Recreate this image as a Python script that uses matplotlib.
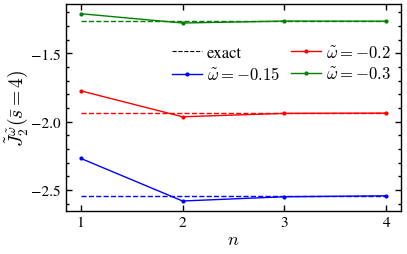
import numpy as np
import matplotlib
matplotlib.use('Agg')
import matplotlib.pyplot as plt
from matplotlib.ticker import MultipleLocator

plt.rcParams['font.family'] = 'STIXGeneral'
plt.rcParams['mathtext.fontset'] = 'cm'

# truncation order
n = [1, 2, 3, 4]

# omega values, approximations and exact results
omega_labels = ['-0.15', '-0.2', '-0.3']
J_015 = [-2.268, -2.580, -2.549, -2.542]
J_02 = [-1.774, -1.964, -1.939, -1.937]
J_03 = [-1.210, -1.278, -1.264, -1.265]
exact_015 = -2.542
exact_02 = -1.937
exact_03 = -1.2615

fig = plt.figure(figsize=(4.07, 2.55), dpi=100)
ax = fig.add_axes([0.1614, 0.1698, 0.8231, 0.8106])

# exact lines (dashed)
ax.plot(n, [exact_015] * len(n), '--', color='blue', lw=1)
ax.plot(n, [exact_02] * len(n), '--', color='red', lw=1)
ax.plot(n, [exact_03] * len(n), '--', color='green', lw=1)

# dummy for legend
h_exact, = ax.plot([], [], '--', color='black', lw=0.8, label='exact')

h1, = ax.plot(n, J_015, '-o', color='blue', lw=1, ms=2,
              label=r'$\tilde{\omega}={-}0.15$')
h2, = ax.plot(n, J_02, '-o', color='red', lw=1, ms=2,
              label=r'$\tilde{\omega}={-}0.2$')
h3, = ax.plot(n, J_03, '-o', color='green', lw=1, ms=2,
              label=r'$\tilde{\omega}={-}0.3$')

ax.set_xlim(0.853, 4.141)
ax.set_ylim(-2.651, -1.139)
ax.set_xticks(n)
ax.yaxis.set_major_locator(MultipleLocator(0.5))
ax.yaxis.set_minor_locator(MultipleLocator(0.1))
ax.tick_params(which='both', direction='in', top=True, right=True,
               labelsize=11, width=1)
ax.tick_params(which='major', length=4)
ax.tick_params(which='minor', length=2.5)
for sp in ax.spines.values():
    sp.set_linewidth(1)

ax.set_xlabel(r'$n$', fontsize=13, labelpad=2)
ax.set_ylabel(r'$\tilde{J}_2^{\tilde{\omega}}(\bar{s}=4)$', fontsize=14, labelpad=1)

ax.legend(handles=[h_exact, h1, h2, h3], ncol=2, frameon=False,
          fontsize=12, loc='upper left', bbox_to_anchor=(0.272, 0.874),
          handlelength=1.8, handletextpad=0.3, columnspacing=0.7,
          labelspacing=0.32)

fig.savefig('out.png', dpi=100)
